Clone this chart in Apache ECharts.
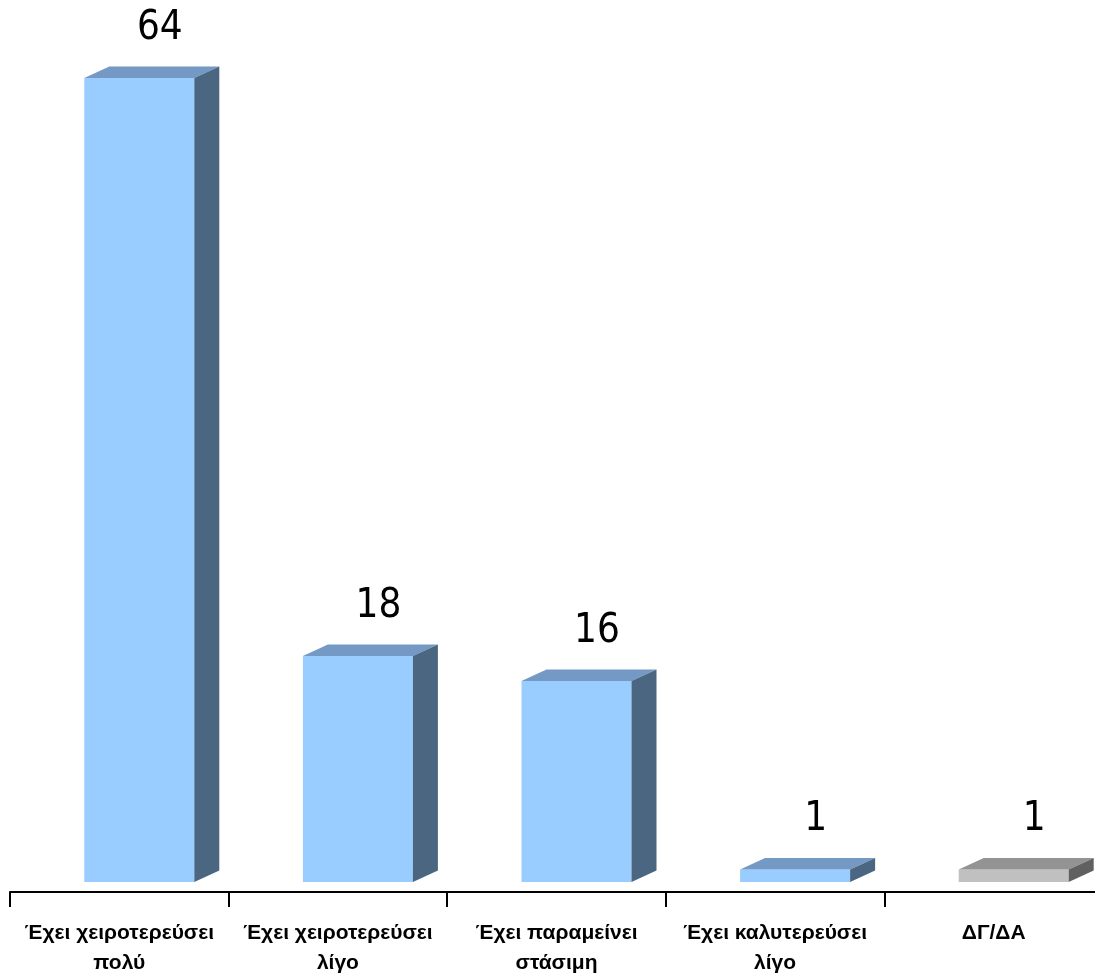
<!DOCTYPE html>
<html><head><meta charset="utf-8">
<script src="https://cdn.jsdelivr.net/npm/echarts@6/dist/echarts.min.js"></script>
<style>html,body{margin:0;padding:0;background:#fff}#c{width:1095px;height:977px}</style>
</head><body><div id="c"></div>
<script>
var categories = ["Έχει χειροτερεύσει\nπολύ", "Έχει χειροτερεύσει\nλίγο", "Έχει παραμείνει\nστάσιμη", "Έχει καλυτερεύσει\nλίγο", "ΔΓ/ΔΑ"];
var values = [64, 18, 16, 1, 1];
var blueFaces = {front: '#99CCFF', top: '#7399C4', side: '#4B6680'};
var grayFaces = {front: '#C0C0C0', top: '#939393', side: '#606060'};

var chart = echarts.init(document.getElementById('c'));
var DX = 25, DY = 11.5, LIFT = 10;
chart.setOption({
  animation: false,
  grid: {left: 10, right: -8, top: 88, bottom: 85, outerBoundsMode: 'none', containLabel: false},
  xAxis: {
    type: 'category', data: categories,
    axisLine: {show: true, lineStyle: {color: '#000', width: 2}},
    axisTick: {show: true, length: 15, lineStyle: {color: '#000', width: 2}},
    axisLabel: {interval: 0, margin: 26, color: '#000', fontFamily: 'Liberation Sans', fontWeight: 'bold', fontSize: 21, lineHeight: 30}
  },
  yAxis: {type: 'value', min: 0, max: 64, show: false, splitLine: {show: false}},
  series: [{
    type: 'custom',
    data: values,
    renderItem: function (params, api) {
      var idx = params.dataIndex;
      var v = api.value(1);
      var c = api.coord([idx, v]);
      var b = api.coord([idx, 0]);
      var x0 = c[0] - 35, x1 = c[0] + 75, yt = c[1] - LIFT, yb = b[1] - LIFT;
      var f = idx === values.length - 1 ? grayFaces : blueFaces;
      return {
        type: 'group',
        children: [
          {type: 'polygon', shape: {points: [[x0, yt], [x1, yt], [x1, yb], [x0, yb]]}, style: {fill: f.front}},
          {type: 'polygon', shape: {points: [[x0, yt], [x1, yt], [x1 + DX, yt - DY], [x0 + DX, yt - DY]]}, style: {fill: f.top}},
          {type: 'polygon', shape: {points: [[x1, yt], [x1 + DX, yt - DY], [x1 + DX, yb - DY], [x1, yb]]}, style: {fill: f.side}},
          {type: 'text', x: (x0 + x1 + DX) / 2 + 8, y: yt - DY - 38,
           style: {text: String(values[idx]), fill: '#000', font: '40px "DejaVu Sans Condensed", "Liberation Sans"', align: 'center', verticalAlign: 'middle'}}
        ]
      };
    },
    encode: {x: 0, y: 1}
  }]
});
</script></body></html>
